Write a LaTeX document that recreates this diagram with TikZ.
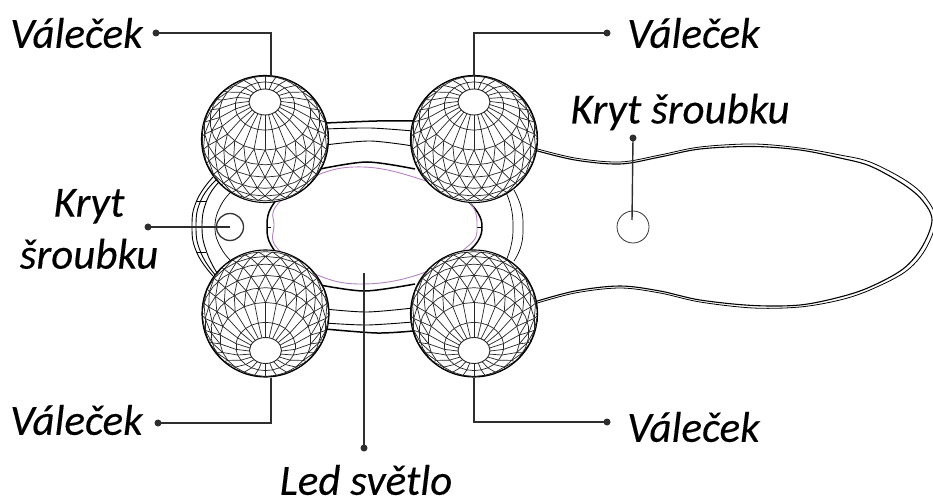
\documentclass[tikz,border=0pt]{standalone}
\usepackage{fontspec}
\setmainfont{Carlito}
\definecolor{ledpurple}{HTML}{B583C0}
\definecolor{leadergrey}{HTML}{2E2E2E}
\tikzset{
  x=1pt,y=-1pt,
  lbl/.style={font=\fontsize{43}{52}\selectfont\itshape\addfontfeature{FakeBold=0.25},inner sep=0pt,align=center,text=black},
  tipdot/.style={circle,fill=leadergrey,inner sep=0pt,minimum size=7pt},
  leader/.style={draw=leadergrey,line width=1.4pt},
  bodyline/.style={draw=black,line width=0.9pt},
  boldline/.style={draw=black,line width=1.5pt},
  meshline/.style={draw=black!85,line width=0.7pt},
  ball/.pic={
    \def\R{63.5}\def\T{36}\def\N{26}
    \fill[white] (0,0) circle (\R);
    \foreach \th in {13,28,46,60,73,87,100,113}{
      \foreach \i in {0,...,25}{
        \pgfmathsetmacro\pa{\i*360/\N}\pgfmathsetmacro\pb{(\i+1)*360/\N}
        \pgfmathsetmacro\za{cos(\th)*cos(\T)-sin(\th)*cos(\pa)*sin(\T)}
        \pgfmathsetmacro\zb{cos(\th)*cos(\T)-sin(\th)*cos(\pb)*sin(\T)}
        \pgfmathparse{max(\za,\zb)>0?1:0}
        \ifnum\pgfmathresult=1
          \draw[meshline] ({\R*sin(\th)*sin(\pa)},{-\R*(cos(\th)*sin(\T)+sin(\th)*cos(\pa)*cos(\T))}) -- ({\R*sin(\th)*sin(\pb)},{-\R*(cos(\th)*sin(\T)+sin(\th)*cos(\pb)*cos(\T))});
        \fi
      }
    }
    \foreach \tha/\thb/\off/\kind in {13/28/0/0,28/46/0/0,46/60/0/1,60/73/0.5/1,73/87/0/1,87/100/0.5/1,100/113/0/1}{
      \foreach \i in {0,...,25}{
        \pgfmathsetmacro\pa{(\i+\off)*360/\N}
        \pgfmathsetmacro\pb{(\i+\off+0.5)*360/\N}
        \pgfmathsetmacro\pc{(\i+\off-0.5)*360/\N}
        \ifnum\kind=0 \pgfmathsetmacro\pb{\pa}\pgfmathsetmacro\pc{\pa}\fi
        \pgfmathsetmacro\za{cos(\tha)*cos(\T)-sin(\tha)*cos(\pa)*sin(\T)}
        \pgfmathsetmacro\zb{cos(\thb)*cos(\T)-sin(\thb)*cos(\pb)*sin(\T)}
        \pgfmathparse{max(\za,\zb)>0?1:0}
        \ifnum\pgfmathresult=1
          \draw[meshline] ({\R*sin(\tha)*sin(\pa)},{-\R*(cos(\tha)*sin(\T)+sin(\tha)*cos(\pa)*cos(\T))}) -- ({\R*sin(\thb)*sin(\pb)},{-\R*(cos(\thb)*sin(\T)+sin(\thb)*cos(\pb)*cos(\T))});
        \fi
        \ifnum\kind=1
        \pgfmathsetmacro\zc{cos(\thb)*cos(\T)-sin(\thb)*cos(\pc)*sin(\T)}
        \pgfmathparse{max(\za,\zc)>0?1:0}
        \ifnum\pgfmathresult=1
          \draw[meshline] ({\R*sin(\tha)*sin(\pa)},{-\R*(cos(\tha)*sin(\T)+sin(\tha)*cos(\pa)*cos(\T))}) -- ({\R*sin(\thb)*sin(\pc)},{-\R*(cos(\thb)*sin(\T)+sin(\thb)*cos(\pc)*cos(\T))});
        \fi
        \fi
      }
    }
    \draw[bodyline,line width=1.1pt] (0,0) circle (\R);
    \fill[white] (0,-37) ellipse (16 and 13);
    \draw[meshline,line width=0.9pt] (0,-37) ellipse (16 and 13);
  }
}
\begin{document}
\begin{tikzpicture}
\useasboundingbox (0,0) rectangle (933,502);
% handle: double contour
\draw[bodyline,line width=0.8pt] plot[smooth,tension=0.55] coordinates {(534,148) (575,158) (620,162) (660,155) (700,147) (753,144) (800,148) (840,155) (870,162) (905,180) (925,197) (936,220) (925,250) (905,272) (870,290) (840,300) (800,307) (753,308) (700,302) (660,293) (620,288) (575,293) (534,304)};
\draw[bodyline,line width=1.1pt] plot[smooth,tension=0.55] coordinates {(534,150) (575,160) (620,164) (660,157) (700,149) (753,146.5) (800,150) (840,158) (870,166) (903,184) (922,200) (932,220) (922,247) (903,269) (870,287) (840,297) (800,305) (753,305.5) (700,300) (660,291) (620,286) (575,291) (534,302)};
% shell arcs
\foreach \xa/\ya/\xb in {213/177/192,216/180/196,219/182/202}
  \draw[bodyline] plot[smooth,tension=0.8] coordinates {(\xa,\ya) (\xb+5,200) (\xb,226.5) (\xb+5,253) (\xa,276)};
\draw[bodyline,line width=0.7pt] (197,201) -- (206,201) (197,252) -- (206,252);
\draw[bodyline,line width=0.7pt] plot[smooth,tension=0.8] coordinates {(234,189) (221,205) (215,227) (221,248) (234,264)};
\draw[bodyline,line width=0.7pt] plot[smooth,tension=0.8] coordinates {(505,190) (511,207) (513,227) (511,246) (505,263)};
\draw[bodyline,line width=0.7pt] plot[smooth,tension=0.8] coordinates {(514,190) (521,207) (523,227) (521,246) (514,261)};
% bands
\draw[boldline] plot[smooth] coordinates {(325,123) (377,121) (413,121)};
\draw[bodyline] plot[smooth] coordinates {(325,129) (370,128) (413,131)};
\draw[bodyline] plot[smooth] coordinates {(325,145) (370,141) (413,146)};
\draw[boldline] plot[smooth] coordinates {(320,169) (367,162) (415,169)};
\draw[boldline] plot[smooth] coordinates {(325,329) (377,333) (413,331)};
\draw[bodyline] plot[smooth] coordinates {(325,323) (367,325) (413,322)};
\draw[bodyline] plot[smooth] coordinates {(325,309) (367,312) (413,308)};
\draw[boldline] plot[smooth] coordinates {(320,285) (365,291) (415,284)};
% concave contour
\draw[boldline] plot[smooth,tension=0.7] coordinates {(277,199) (269,212) (267,227) (269,241) (277,254)};
\draw[boldline] plot[smooth,tension=0.7] coordinates {(466,199) (478,213) (482,227) (478,241) (466,254)};
\draw[bodyline,line width=0.5pt] (267,227) -- (271,227) (477,227) -- (482,227);
% led
\draw[draw=ledpurple,line width=0.9pt] plot[smooth cycle,tension=0.7] coordinates {(363,167) (423,180) (467,200) (477,227) (467,247) (423,273) (363,284) (315,274) (277,248) (274,225) (277,205) (313,177)};
% screw covers
\node[circle,draw=black!80,line width=1.3pt,minimum size=27pt,inner sep=0pt] (coverL) at (230,227) {};
\node[circle,draw=black!80,line width=0.8pt,minimum size=32pt,inner sep=0pt] (coverR) at (633,227) {};
% balls
\pic at (265,139) {ball};
\pic at (474,139) {ball};
\pic[yscale=-1] at (265.5,313.5) {ball};
\pic[yscale=-1] at (474,313.5) {ball};
% labels
\node[lbl,anchor=west] (tl) at (10,33) {Váleček};
\node[lbl,anchor=west] (tr) at (627,33) {Váleček};
\node[lbl,anchor=west] (bl) at (10,420) {Váleček};
\node[lbl,anchor=west] (br) at (627,427) {Váleček};
\node[lbl] (kr) at (680,112) {Kryt šroubku};
\node[lbl] (kl) at (89,229) {Kryt\\šroubku};
\node[lbl] (led) at (366,480) {Led světlo};
% leaders
\node[tipdot] (dtl) at (156,33) {};
\node[tipdot] (dtr) at (607,33) {};
\node[tipdot] (dbl) at (158,423) {};
\node[tipdot] (dbr) at (607,422) {};
\node[tipdot] (dkr) at (633,138) {};
\node[tipdot] (dkl) at (148,227) {};
\node[tipdot] (dled) at (364,448) {};
\coordinate (etl) at (271,76);
\coordinate (etr) at (474,76);
\coordinate (ebl) at (271,378);
\coordinate (ebr) at (474,378);
\coordinate (ekr) at (632,220);
\coordinate (ekl) at (230,227);
\coordinate (eled) at (364,273);
\draw[leader] (dtl.center) -| (etl);
\draw[leader] (dtr.center) -| (etr);
\draw[leader] (dbl.center) -| (ebl);
\draw[leader] (dbr.center) -| (ebr);
\draw[leader] (dkr.center) -- (ekr);
\draw[leader] (dkl.center) -- (ekl);
\draw[leader] (dled.center) -- (eled);
\end{tikzpicture}
\end{document}
